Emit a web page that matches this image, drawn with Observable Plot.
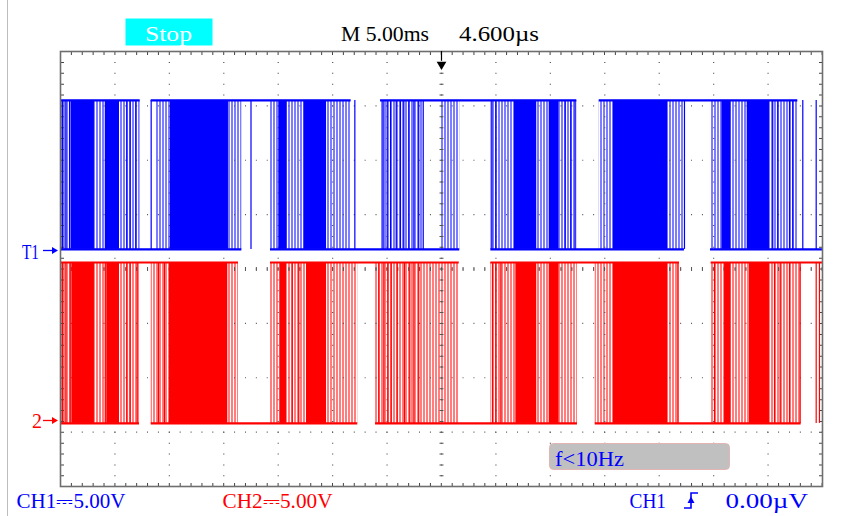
<!DOCTYPE html>
<html><head><meta charset="utf-8">
<script src="https://cdn.jsdelivr.net/npm/d3@7"></script>
<script src="https://cdn.jsdelivr.net/npm/@observablehq/plot@0.6"></script>
<style>
body{margin:0;background:#fff;}
#chart{position:relative;width:862px;height:516px;}
</style>
</head><body><div id="chart"></div>
<script>
// ---- scope settings ----
const timeDomain = [-35, 35];          // ms : 14 div x 5.00 ms
const divDomain = [-4, 4];             // vertical divisions
const voltsPerDiv = 5;
const gridTimes = [-30,-25,-20,-15,-10,-5,0,5,10,15,20,25,30];
const gridDivs = [-3,-2,-1,0,1,2,3];

// ---- CH1 (blue) ----
const ch1GroundDiv = 0.36;
const ch1HighV = 13.7;
const ch1LightSegs = [[-34.9,-33.99],[-31.88,-30.89],[-29.58,-27.68],[-26.27,-24.92],[-19.57,-18.34],[-15.71,-14.95],[-14.17,-12.65],[-10.56,-8.30],[-5.60,-1.63],[-0.09,1.68],[4.53,6.68],[8.75,9.89],[10.81,12.43],[14.49,15.77],[20.79,22.32],[24.71,25.75],[26.61,28.08],[30.13,32.73]];
const ch1SolidSegs = [[-33.99,-31.88],[-30.89,-29.58],[-24.92,-19.57],[-14.95,-14.17],[-12.65,-10.56],[6.68,8.75],[9.89,10.81],[15.77,20.79],[25.75,26.61],[28.08,30.13]];
const ch1Pulses = [-34.82,-34.51,-34.17,-28.91,-28.60,-28.08,-26.67,-17.50,-7.96,-5.36,-4.99,-4.68,-4.16,-3.77,-3.46,-3.00,-2.54,-2.09,-1.68,4.62,4.99,11.36,11.88,12.28,22.32,30.43,30.89,31.97,32.27,33.19,34.42];
const ch1HighRail = [[-35,-27.68],[-26.67,-8.30],[-5.60,12.43],[14.49,32.73]];
const ch1LowRail = [[-35,-18.34],[-15.71,1.68],[4.53,22.32],[24.71,35]];

// ---- CH2 (red) ----
const ch2GroundDiv = -2.84;
const ch2HighV = 14.8;
const ch2LightSegs = [[-34.9,-33.96],[-31.88,-30.75],[-29.58,-27.74],[-26.67,-25.01],[-19.63,-18.65],[-15.71,-14.85],[-14.24,-12.40],[-10.56,-7.69],[-6.06,1.63],[4.53,6.83],[8.75,9.89],[10.81,12.49],[14.12,15.77],[20.79,21.86],[24.77,26.00],[26.61,28.29],[30.13,33.04]];
const ch2SolidSegs = [[-33.96,-31.88],[-30.75,-29.58],[-25.01,-19.63],[-14.85,-14.24],[-12.40,-10.56],[6.83,8.75],[9.89,10.81],[15.77,20.79],[26.00,26.61],[28.29,30.13]];
const ch2Pulses = [-34.82,-34.51,-34.11,-30.89,-28.91,-28.60,-27.95,-26.00,-25.45,-13.71,-13.11,-5.76,-5.30,-4.93,-4.62,-4.07,-3.40,-2.91,-2.54,-2.09,4.68,4.99,5.45,21.71,25.08,30.59,31.11,31.97,32.95,34.42,34.72];
const ch2HighRail = [[-35,-18.65],[-15.71,1.63],[4.53,21.86],[24.77,35]];
const ch2LowRail = [[-35,-27.74],[-26.67,-7.69],[-6.06,12.49],[14.12,33.04]];

const BLUE = "#0000ff", RED = "#ff0000";
const toDiv = (g, v) => g + v / voltsPerDiv;
const c1lo = toDiv(ch1GroundDiv, 0), c1hi = toDiv(ch1GroundDiv, ch1HighV);
const c2lo = toDiv(ch2GroundDiv, 0), c2hi = toDiv(ch2GroundDiv, ch2HighV);

function band(light, solid, pulses, hiRail, loRail, lo, hi, color, pat) {
  return {
    light: Plot.rect(light, {x1: d => d[0], x2: d => d[1], y1: () => lo, y2: () => hi, fill: pat}),
    solid: Plot.rect(solid, {x1: d => d[0], x2: d => d[1], y1: () => lo, y2: () => hi, fill: color}),
    pulses: Plot.ruleX(pulses, {x: d => d, y1: () => lo, y2: () => hi, stroke: color, strokeWidth: 1.2}),
    hiRail: Plot.ruleY(hiRail, {x1: d => d[0], x2: d => d[1], y: () => hi, stroke: color, strokeWidth: 2.2}),
    loRail: Plot.ruleY(loRail, {x1: d => d[0], x2: d => d[1], y: () => lo, stroke: color, strokeWidth: 2.2})
  };
}
const b1 = band(ch1LightSegs, ch1SolidSegs, ch1Pulses, ch1HighRail, ch1LowRail, c1lo, c1hi, BLUE, "url(#stripeBlue)");
const b2 = band(ch2LightSegs, ch2SolidSegs, ch2Pulses, ch2HighRail, ch2LowRail, c2lo, c2hi, RED, "url(#stripeRed)");

const dotDash = "1,9.88";
const gridColor = "#555";

const svg = Plot.plot({
  width: 862, height: 516,
  marginLeft: 60, marginRight: 40, marginTop: 51, marginBottom: 30,
  x: {domain: timeDomain, axis: null},
  y: {domain: divDomain, axis: null},
  style: {background: "#fff"},
  marks: [
    b1.light, b2.light,
    Plot.ruleX(gridTimes, {x: d => d, stroke: gridColor, strokeDasharray: dotDash, strokeWidth: 1.2}),
    Plot.ruleY(gridDivs, {y: d => d, stroke: gridColor, strokeDasharray: dotDash, strokeWidth: 1.2}),
    Plot.ruleX([0], {x: d => d, stroke: gridColor, strokeDasharray: dotDash, strokeWidth: 4}),
    Plot.ruleY([0], {y: d => d, stroke: gridColor, strokeDasharray: dotDash, strokeWidth: 4}),
    Plot.ruleX([timeDomain[0]], {x: d => d, dx: 2, stroke: "#444", strokeDasharray: dotDash, strokeWidth: 3}),
    Plot.ruleX([timeDomain[1]], {x: d => d, dx: -2, stroke: "#444", strokeDasharray: dotDash, strokeWidth: 3}),
    Plot.ruleY([divDomain[1]], {y: d => d, dy: 2, stroke: "#444", strokeDasharray: dotDash, strokeWidth: 3}),
    Plot.ruleY([divDomain[0]], {y: d => d, dy: -2, stroke: "#444", strokeDasharray: dotDash, strokeWidth: 3}),
    b1.solid, b2.solid,
    b1.pulses, b2.pulses,
    b1.hiRail, b1.loRail, b2.hiRail, b2.loRail,
    Plot.frame({stroke: "#6e6e6e", strokeWidth: 1.6}),
    Plot.ruleX([0], {x: d => d, y1: () => 4, y2: () => 3.82, stroke: "#000", strokeWidth: 1.2}),
    Plot.dot([0], {x: d => d, frameAnchor: "top", dy: 13, symbol: "triangle", rotate: 180, r: 3.6, fill: "#000", stroke: "none"})
  ]
});
document.getElementById("chart").appendChild(svg);

const s = d3.select(svg);
const defs = s.insert("defs", ":first-child");
[["stripeBlue", "#7d7dff"], ["stripeRed", "#ff7d7d"]].forEach(([id, c]) => {
  const p = defs.append("pattern").attr("id", id).attr("patternUnits", "userSpaceOnUse")
    .attr("width", 3).attr("height", 8);
  p.append("rect").attr("width", 3).attr("height", 8).attr("fill", "#fff");
  p.append("rect").attr("width", 2).attr("height", 8).attr("fill", c);
});

// decoration: left border line of screen
s.append("line").attr("x1", 7.5).attr("x2", 7.5).attr("y1", 0).attr("y2", 516)
  .attr("stroke", "#bdbdbd").attr("stroke-width", 1);

const font = "'Liberation Serif', 'DejaVu Serif', serif";
function txt(str, x, y, w, color, size) {
  s.append("text").attr("x", x).attr("y", y).attr("fill", color)
    .attr("text-anchor", "start")
    .attr("font-family", font).attr("font-size", size)
    .attr("textLength", w).attr("lengthAdjust", "spacingAndGlyphs").text(str);
}
// header
s.append("rect").attr("x", 125.5).attr("y", 18.5).attr("width", 87).attr("height", 27).attr("fill", "#00ffff");
txt("Stop", 145, 41, 47, "#fff", 22);
txt("M 5.00ms", 341, 41, 88, "#000", 21);
txt("4.600µs", 459, 41, 80, "#000", 21);

// channel markers
txt("T1", 22, 258.5, 17, BLUE, 22);
s.append("path").attr("d", "M43,250.5H53").attr("stroke", BLUE).attr("stroke-width", 1.3);
s.append("path").attr("d", "M52,247L58,250.5L52,254Z").attr("fill", BLUE);
txt("2", 32, 428, 10, RED, 21);
s.append("path").attr("d", "M43,420.5H53").attr("stroke", RED).attr("stroke-width", 1.3);
s.append("path").attr("d", "M52,417L58,420.5L52,424Z").attr("fill", RED);

// frequency box
s.append("rect").attr("x", 549.5).attr("y", 443.5).attr("width", 180).attr("height", 26)
  .attr("rx", 4).attr("fill", "#c0c0c0").attr("stroke", "#e2b4b4").attr("stroke-width", 1);
txt("f<10Hz", 555, 466, 69, BLUE, 22);

// bottom status line
txt("CH1\u23935.00V", 16.5, 507.5, 109, BLUE, 22);
txt("CH2\u23935.00V", 222.5, 507.5, 110, RED, 22);
txt("CH1", 629.5, 507.5, 36.5, BLUE, 22);
s.append("path").attr("d", "M684,508H691V493H698").attr("fill", "none").attr("stroke", BLUE).attr("stroke-width", 1.6);
s.append("path").attr("d", "M687.5,503L691,496.5L694.5,503Z").attr("fill", BLUE);
txt("0.00µV", 725.5, 507.5, 82.5, BLUE, 22);
</script>
</body></html>
